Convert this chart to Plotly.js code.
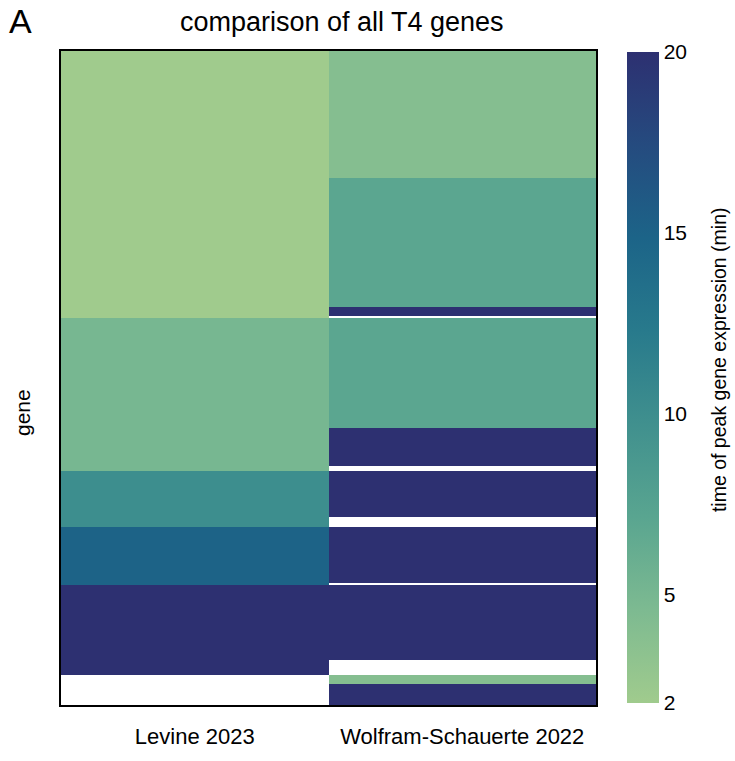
<!DOCTYPE html>
<html><head><meta charset="utf-8">
<script src="https://cdn.plot.ly/plotly-3.0.1.min.js"></script>
<style>html,body{margin:0;padding:0;background:#fff}#chart{width:735px;height:761px}</style>
</head><body><div id="chart"></div>
<script>
// datasets (columns)
const datasets = ["Levine 2023", "Wolfram-Schauerte 2022"];
// peak time per gene, run-length encoded (value, number of genes), genes in plotted order
const levineValues = [2, 5, 10, 15, 20, null];
const levineCounts = [114, 65, 24, 25, 38, 13];
const wolframValues = [4, 7, 20, null, 7, 20, null, 20, null, 20, null, 20, null, 4, 20];
const wolframCounts = [54, 55, 4, 1, 47, 16, 2, 20, 4, 24, 1, 32, 6, 4, 9];
const colorTicks = [2, 5, 10, 15, 20];

function expand(vals, counts) {
  const out = [];
  vals.forEach((v, i) => { for (let k = 0; k < counts[i]; k++) out.push(v); });
  return out;
}
const lev = expand(levineValues, levineCounts);
const wol = expand(wolframValues, wolframCounts);
const genes = lev.map((_, i) => i);
const z = genes.map(i => [lev[i], wol[i]]);

const crest = [
  [0.000, '#a0cb8d'], [0.143, '#7dba91'], [0.286, '#59a590'], [0.429, '#40908e'],
  [0.571, '#287a8c'], [0.714, '#1c6488'], [0.857, '#254b7f'], [1.000, '#2d3071']
];
const FONT = '"Liberation Sans", Arial, sans-serif';

const trace = {
  type: 'heatmap',
  x: datasets, y: genes, z: z,
  zmin: 2, zmax: 20,
  colorscale: crest,
  hoverongaps: false,
  colorbar: {
    x: 1.058, xanchor: 'left', xpad: 0,
    y: 0.5008, yanchor: 'middle', ypad: 0,
    thickness: 32, lenmode: 'pixels', len: 651,
    outlinewidth: 0,
    tickvals: colorTicks, ticks: '',
    tickfont: {family: FONT, size: 21, color: '#000'}
  }
};

const layout = {
  width: 735, height: 761,
  margin: {l: 61, r: 139, t: 51, b: 56},
  paper_bgcolor: '#fff', plot_bgcolor: '#fff',
  font: {family: FONT, color: '#000'},
  title: {text: 'comparison of all T4 genes', xref: 'container', x: 0.465, xanchor: 'center',
          yref: 'container', y: 0.972, yanchor: 'middle', font: {family: FONT, size: 27, color: '#000'}},
  xaxis: {type: 'category', showline: true, mirror: true, linewidth: 2, linecolor: '#000',
          ticks: '', showgrid: false, zeroline: false, ticklabelstandoff: 11,
          tickfont: {family: FONT, size: 22, color: '#000'}},
  yaxis: {autorange: 'reversed', showline: true, mirror: true, linewidth: 2, linecolor: '#000',
          showticklabels: false, ticks: '', showgrid: false, zeroline: false},
  annotations: [
    {text: 'A', xref: 'paper', yref: 'paper', x: -0.0748, y: 1.046, xanchor: 'center', yanchor: 'middle',
     showarrow: false, font: {family: FONT, size: 34, color: '#000'}},
    {text: 'gene', xref: 'paper', yref: 'paper', x: -0.0729, y: 0.448, xanchor: 'center', yanchor: 'middle',
     textangle: -90, showarrow: false, font: {family: FONT, size: 21, color: '#000'}},
    {text: 'time of peak gene expression (min)', xref: 'paper', yref: 'paper', x: 1.23, y: 0.5275,
     xanchor: 'center', yanchor: 'middle', textangle: -90, showarrow: false,
     font: {family: FONT, size: 19.5, color: '#000'}}
  ]
};

Plotly.newPlot('chart', [trace], layout, {displayModeBar: false, staticPlot: true});
</script>
</body></html>
